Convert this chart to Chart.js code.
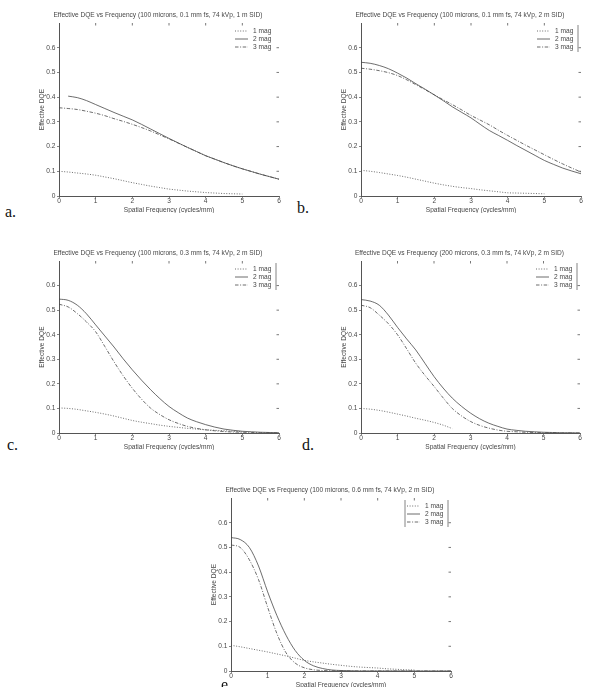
<!DOCTYPE html>
<html><head><meta charset="utf-8">
<script src="https://cdn.jsdelivr.net/npm/chart.js@4/dist/chart.umd.min.js"></script>
<style>
html,body{margin:0;padding:0;background:#fff;}
#page{position:relative;width:591px;height:687px;overflow:hidden;background:#fff;}
#page canvas{position:absolute;}
.lbl{position:absolute;font-family:"Liberation Serif","DejaVu Serif",serif;font-size:16px;color:#111;line-height:1;white-space:nowrap;}
</style></head><body><div id="page"></div>
<script>
// ---------- data ----------
const freq = [0,0.25,0.5,0.75,1,1.25,1.5,1.75,2,2.25,2.5,2.75,3,3.25,3.5,3.75,4,4.25,4.5,4.75,5,5.25,5.5,5.75,6];
const xTickValues = [0,1,2,3,4,5,6];
const xTickLabels = ['0','1','2','3','4','5','6'];
const yTickValues = [0,0.1,0.2,0.3,0.4,0.5,0.6];
const yTickLabels = ['0','0.1','0.2','0.3','0.4','0.5','0.6'];
const seriesNames = ['1 mag','2 mag','3 mag'];
const panelTitles = [
  'Effective DQE vs Frequency (100 microns, 0.1 mm fs, 74 kVp, 1 m SID)',
  'Effective DQE vs Frequency (100 microns, 0.1 mm fs, 74 kVp, 2 m SID)',
  'Effective DQE vs Frequency (100 microns, 0.3 mm fs, 74 kVp, 2 m SID)',
  'Effective DQE vs Frequency (200 microns, 0.3 mm fs, 74 kVp, 2 m SID)',
  'Effective DQE vs Frequency (100 microns, 0.6 mm fs, 74 kVp, 2 m SID)'
];
const panelLetters = ['a.','b.','c.','d.','e.'];
const xAxisTitle = 'Spatial Frequency (cycles/mm)';
const yAxisTitle = 'Effective DQE';

const aMag1 = [0.100,0.097,0.093,0.089,0.084,0.077,0.070,0.062,0.054,0.047,0.040,0.034,0.028,0.024,0.020,0.017,0.014,0.012,0.010,0.009,0.008,null,null,null,null];
const aMag2 = [null,0.404,0.398,0.386,0.370,0.354,0.338,0.323,0.308,0.290,0.271,0.252,0.233,0.215,0.197,0.180,0.163,0.149,0.135,0.122,0.110,0.099,0.088,0.078,0.068];
const aMag3 = [0.357,0.354,0.350,0.343,0.335,0.325,0.313,0.302,0.290,0.277,0.263,0.247,0.231,0.214,0.197,0.180,0.163,0.149,0.135,0.122,0.110,0.099,0.088,0.078,0.068];

const bMag1 = [0.104,0.100,0.095,0.089,0.083,0.076,0.068,0.060,0.052,0.045,0.039,0.034,0.030,0.025,0.021,0.017,0.013,0.012,0.011,0.010,0.009,null,null,null,null];
const bMag2 = [0.541,0.537,0.528,0.515,0.497,0.477,0.454,0.432,0.409,0.385,0.360,0.338,0.316,0.290,0.265,0.245,0.225,0.204,0.184,0.164,0.144,0.128,0.113,0.101,0.090];
const bMag3 = [0.517,0.513,0.507,0.499,0.487,0.470,0.450,0.430,0.409,0.389,0.369,0.348,0.326,0.307,0.288,0.266,0.245,0.225,0.205,0.186,0.167,0.148,0.130,0.113,0.097];

const cMag1 = [0.102,0.100,0.096,0.090,0.084,0.077,0.069,0.060,0.051,0.044,0.038,0.032,0.027,0.023,0.019,0.016,0.013,0.011,0.009,0.007,0.005,null,null,null,null];
const cMag2 = [0.545,0.540,0.520,0.485,0.440,0.395,0.350,0.302,0.257,0.215,0.176,0.140,0.108,0.083,0.061,0.046,0.034,0.024,0.016,0.011,0.007,0.005,0.003,0.002,0.001];
const cMag3 = [0.524,0.513,0.486,0.452,0.412,0.352,0.290,0.233,0.182,0.138,0.101,0.075,0.054,0.039,0.027,0.019,0.013,0.009,0.006,0.004,0.003,0.002,0.001,0.001,0.000];

const dMag1 = [0.100,0.097,0.092,0.085,0.077,0.069,0.060,0.052,0.043,0.032,0.018,null,null,null,null,null,null,null,null,null,null,null,null,null,null];
const dMag2 = [0.543,0.537,0.520,0.480,0.430,0.383,0.338,0.284,0.230,0.183,0.142,0.109,0.081,0.058,0.040,0.027,0.016,0.011,0.007,0.005,0.003,0.002,0.001,0.001,0.000];
const dMag3 = [0.520,0.510,0.480,0.445,0.400,0.343,0.284,0.235,0.190,0.143,0.100,0.070,0.047,0.031,0.020,0.012,0.007,0.005,0.003,0.002,0.001,0.001,0.000,0.000,0.000];

const eMag1 = [0.104,0.098,0.091,0.084,0.077,0.069,0.061,0.052,0.043,0.037,0.032,0.027,0.023,0.019,0.016,0.014,0.012,0.009,0.007,0.005,0.004,null,null,null,null];
const eMag2 = [0.540,0.532,0.500,0.425,0.320,0.225,0.145,0.083,0.043,0.021,0.010,0.004,0.002,0.001,0,0,0,0,0,0,0,0,0,0,0];
const eMag3 = [0.510,0.500,0.450,0.370,0.258,0.152,0.074,0.032,0.013,0.005,0.002,0.001,0,0,0,0,0,0,0,0,0,0,0,0,0];

const panelSeries = [
  [aMag1,aMag2,aMag3],
  [bMag1,bMag2,bMag3],
  [cMag1,cMag2,cMag3],
  [dMag1,dMag2,dMag3],
  [eMag1,eMag2,eMag3]
];

// ---------- layout / style (not data) ----------
const panelBoxes = [
  {L:59,  R:279, T:23,  B:196, legend:'none',  lx:5,   lb:217},
  {L:361, R:581, T:23,  B:196, legend:'right', lx:297, lb:213},
  {L:59,  R:279, T:261, B:433, legend:'right', lx:7,   lb:450},
  {L:361, R:580, T:261, B:433, legend:'right', lx:302, lb:450},
  {L:231, R:451, T:498, B:671, legend:'box',   lx:221, lb:690}
];
const dashes = [[1,1.6],[],[3.5,1.6,1,1.6]];
const ink = '#474747';
const FONT = '"Liberation Sans", Arial, sans-serif';
const FS = 6.6;
const WY = 22, TT = 12, HX = 17, PR = 5;

const decorPlugin = {
  id: 'decor',
  afterDraw(chart) {
    const {ctx, chartArea: ca, scales} = chart;
    const opt = chart.options.plugins.decor;
    ctx.save();
    ctx.strokeStyle = '#555';
    ctx.lineWidth = 0.8;
    ctx.beginPath();
    scales.x.ticks.forEach(t => {
      if (t.value <= 0 || t.value >= 6) return;
      const px = scales.x.getPixelForValue(t.value);
      ctx.moveTo(px, ca.top); ctx.lineTo(px, ca.top + 2.5);
    });
    scales.y.ticks.forEach(t => {
      if (t.value <= 0) return;
      const py = scales.y.getPixelForValue(t.value);
      ctx.moveTo(ca.right, py); ctx.lineTo(ca.right - 2.5, py);
    });
    ctx.stroke();
    const rowY = [ca.top + 8, ca.top + 16, ca.top + 24];
    ctx.font = FS + 'px ' + FONT;
    ctx.textBaseline = 'middle';
    ctx.textAlign = 'left';
    chart.data.datasets.forEach((ds, i) => {
      ctx.strokeStyle = ink;
      ctx.lineWidth = 0.8;
      ctx.setLineDash(ds.borderDash || []);
      ctx.beginPath();
      ctx.moveTo(ca.right - 44, rowY[i]);
      ctx.lineTo(ca.right - 31, rowY[i]);
      ctx.stroke();
      ctx.setLineDash([]);
      ctx.fillStyle = ink;
      ctx.fillText(ds.label, ca.right - 26, rowY[i]);
    });
    ctx.strokeStyle = '#666';
    ctx.lineWidth = 0.8;
    ctx.beginPath();
    if (opt.legend === 'right' || opt.legend === 'box') {
      ctx.moveTo(ca.right - 3, ca.top + 2); ctx.lineTo(ca.right - 3, ca.top + 29);
    }
    if (opt.legend === 'box') {
      ctx.moveTo(ca.right - 46, ca.top + 2); ctx.lineTo(ca.right - 46, ca.top + 29);
    }
    ctx.stroke();
    ctx.restore();
  }
};

const page = document.getElementById('page');
panelBoxes.forEach((box, p) => {
  const cv = document.createElement('canvas');
  const w = WY + (box.R - box.L) + PR;
  const h = TT + (box.B - box.T) + HX;
  cv.width = w; cv.height = h;
  cv.style.left = (box.L - WY) + 'px';
  cv.style.top = (box.T - TT) + 'px';
  cv.style.width = w + 'px';
  cv.style.height = h + 'px';
  page.appendChild(cv);

  const lbl = document.createElement('div');
  lbl.className = 'lbl';
  lbl.textContent = panelLetters[p];
  lbl.style.left = box.lx + 'px';
  lbl.style.top = (box.lb - 13.4) + 'px';
  page.appendChild(lbl);

  const datasets = panelSeries[p].map((vals, i) => ({
    label: seriesNames[i],
    data: freq.map((f, k) => ({x: f, y: vals[k]})),
    borderColor: ink,
    borderWidth: 0.8,
    borderDash: dashes[i],
    pointRadius: 0,
    fill: false,
    spanGaps: false,
    cubicInterpolationMode: 'monotone'
  }));

  new Chart(cv, {
    type: 'line',
    data: {datasets},
    options: {
      responsive: false,
      animation: false,
      devicePixelRatio: 1,
      layout: {padding: {top: 0, left: 0, right: PR, bottom: 0}},
      plugins: {
        legend: {display: false},
        tooltip: {enabled: false},
        title: {
          display: true,
          text: panelTitles[p],
          color: ink,
          font: {family: FONT, size: FS, weight: 'normal', lineHeight: 1},
          padding: {top: 1, bottom: 4.4}
        },
        decor: {legend: box.legend}
      },
      scales: {
        x: {
          type: 'linear',
          min: 0, max: 6,
          afterBuildTicks: s => { s.ticks = xTickValues.map(v => ({value: v})); },
          afterFit: s => { s.height = HX; },
          ticks: {
            color: ink, padding: 0, maxRotation: 0, autoSkip: false,
            font: {family: FONT, size: FS, lineHeight: 1},
            callback: (v) => xTickLabels[xTickValues.indexOf(v)]
          },
          grid: {display: true, drawOnChartArea: false, drawTicks: true, tickLength: 2, color: '#666', lineWidth: 0.8},
          border: {display: true, color: '#555', width: 1},
          title: {display: true, text: xAxisTitle, color: ink, padding: 0,
                  font: {family: FONT, size: FS, lineHeight: 1}}
        },
        y: {
          type: 'linear',
          min: 0, max: 0.7,
          afterBuildTicks: s => { s.ticks = yTickValues.map(v => ({value: v})); },
          afterFit: s => { s.width = WY; },
          ticks: {
            color: ink, padding: 1.5, autoSkip: false,
            font: {family: FONT, size: FS, lineHeight: 1},
            callback: (v) => yTickLabels[yTickValues.indexOf(v)]
          },
          grid: {display: true, drawOnChartArea: false, drawTicks: true, tickLength: 2, color: '#666', lineWidth: 0.8},
          border: {display: true, color: '#555', width: 1},
          title: {display: true, text: yAxisTitle, color: ink, padding: {top: 2.1, bottom: 0},
                  font: {family: FONT, size: FS, lineHeight: 1}}
        }
      }
    },
    plugins: [decorPlugin]
  });
});
</script>
</body></html>
